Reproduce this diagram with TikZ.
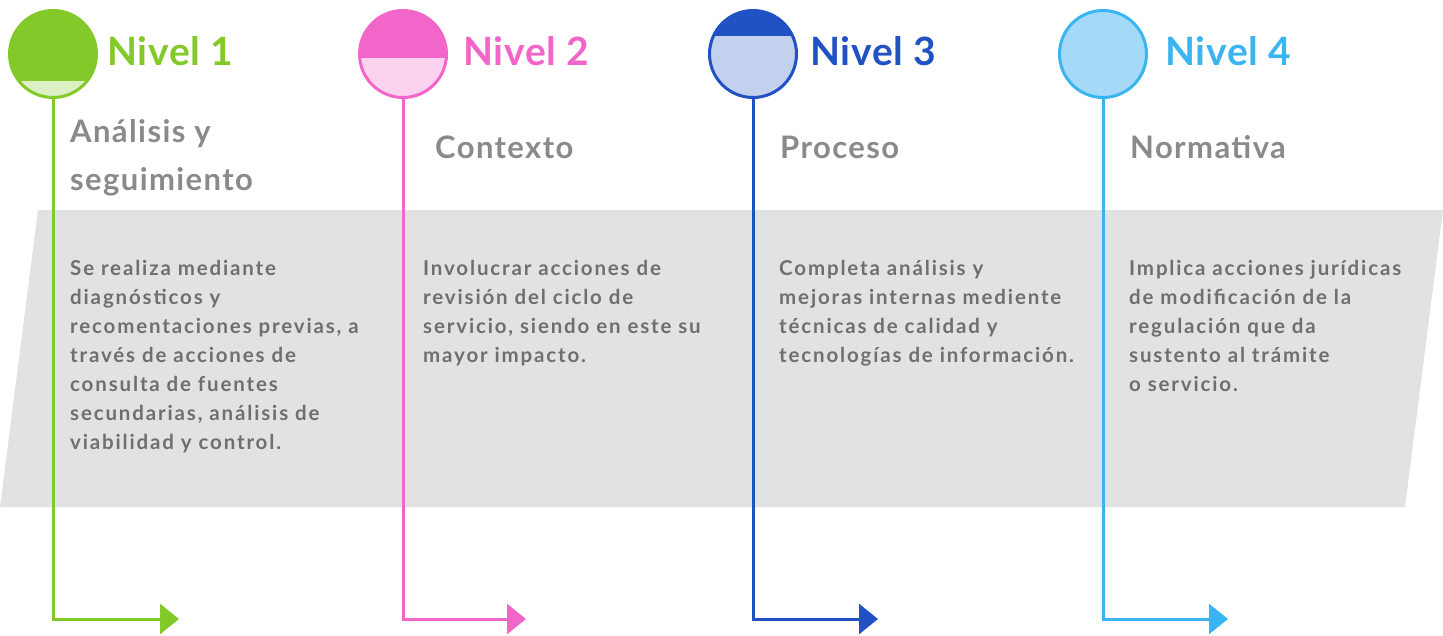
\documentclass[tikz,border=0pt]{standalone}
\usepackage{fontspec}
\setmainfont{Lato}
\usetikzlibrary{arrows.meta,positioning}
\definecolor{verde}{HTML}{84C92A}
\definecolor{verdeclaro}{HTML}{DDF0C4}
\definecolor{rosa}{HTML}{F266CA}
\definecolor{rosaclaro}{HTML}{FCD2EE}
\definecolor{azul}{HTML}{2152C4}
\definecolor{azulclaro}{HTML}{C3D0EE}
\definecolor{celeste}{HTML}{3BB5F1}
\definecolor{celesteclaro}{HTML}{A4DAF8}
\definecolor{banda}{HTML}{E1E2E4}
\definecolor{grisTitulo}{HTML}{8A8A8A}
\definecolor{grisTexto}{HTML}{6F6F6F}
\tikzstyle{circulo} = [circle, draw, line width=3pt, minimum size=87pt, inner sep=0pt]
\tikzstyle{nivel} = [anchor=west, inner sep=0pt,
    font=\fontsize{39}{39}\selectfont\bfseries\addfontfeatures{LetterSpace=2}]
\tikzstyle{titulo} = [anchor=west, inner sep=0pt, text=grisTitulo, align=left,
    font=\fontsize{31}{48}\selectfont\bfseries\addfontfeatures{LetterSpace=4.5}]
\tikzstyle{texto} = [anchor=north west, inner sep=0pt, text=grisTexto, align=left,
    font=\fontsize{20.5}{29}\selectfont\bfseries\addfontfeatures{LetterSpace=9}]
\tikzstyle{linea} = [line width=3pt, -{Triangle[length=19pt,width=30pt]}]
\tikzset{llenado/.style 2 args={path picture={
    \fill[#2] (path picture bounding box.north west) rectangle
        ([yshift=-#1pt]path picture bounding box.north east);}}}

\begin{document}
\begin{tikzpicture}[x=1pt, y=-1pt]
    \useasboundingbox (0,0) rectangle (1443,635);
    \fill[banda] (38,210) -- (1443,210) -- (1405,507) -- (0,507) -- cycle;

    \node[circulo, draw=verde, fill=verdeclaro, llenado={70}{verde}] (c1) at (53,54) {};
    \node[circulo, draw=rosa, fill=rosaclaro, llenado={47}{rosa}] (c2) at (403,54) {};
    \node[circulo, draw=azul, fill=azulclaro, llenado={25}{azul}] (c3) at (753,54) {};
    \node[circulo, draw=celeste, fill=celesteclaro] (c4) at (1103,54) {};

    \node[nivel, text=verde] (n1) at (107,51) {Nivel 1};
    \node[nivel, text=rosa] (n2) at (463,51) {Nivel 2};
    \node[nivel, text=azul] (n3) at (810,51) {Nivel 3};
    \node[nivel, text=celeste] (n4) at (1165,51) {Nivel 4};

    \node[titulo] (t1) at (70,158) {Análisis y\\seguimiento};
    \node[titulo] (t2) at (435,147) {Contexto};
    \node[titulo] (t3) at (780,147) {Proceso};
    \node[titulo] (t4) at (1130,147) {Normativa};

    \node[texto] (d1) at (70,260) {Se realiza mediante\\diagnósticos y\\recomentaciones previas, a\\través de acciones de\\consulta de fuentes\\secundarias, análisis de\\viabilidad y control.};
    \node[texto] (d2) at (423,260) {Involucrar acciones de\\revisión del ciclo de\\servicio, siendo en este su\\mayor impacto.};
    \node[texto] (d3) at (779,260) {Completa análisis y\\mejoras internas mediente\\técnicas de calidad y\\tecnologías de información.};
    \node[texto] (d4) at (1129,260) {Implica acciones jurídicas\\de modificación de la\\regulación que da\\sustento al trámite\\o servicio.};

    \coordinate (f1) at (179,619);
    \coordinate (f2) at (526,619);
    \coordinate (f3) at (878,619);
    \coordinate (f4) at (1228,619);

    \draw[linea, verde] (c1.south) |- (f1);
    \draw[linea, rosa] (c2.south) |- (f2);
    \draw[linea, azul] (c3.south) |- (f3);
    \draw[linea, celeste] (c4.south) |- (f4);
\end{tikzpicture}
\end{document}
